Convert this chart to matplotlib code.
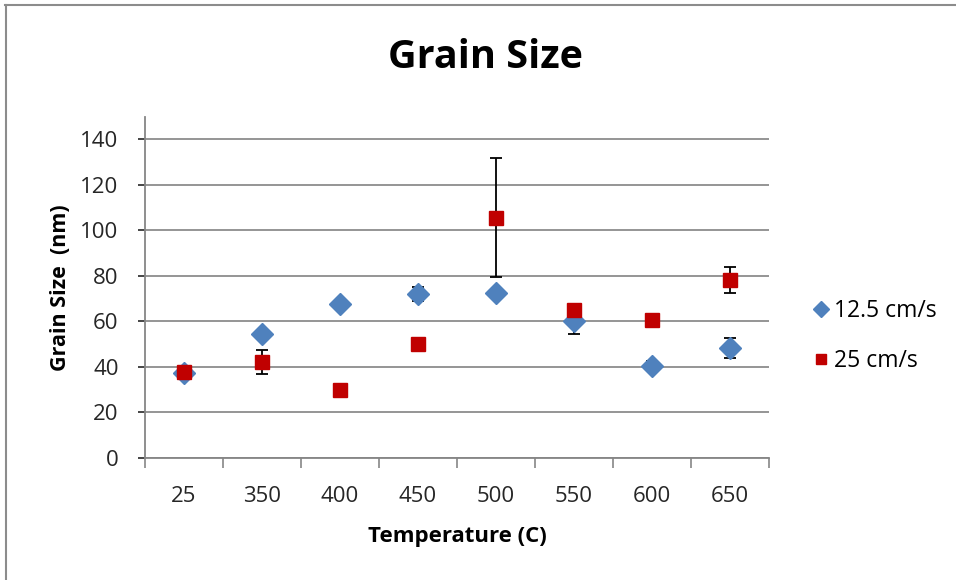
import numpy as np
import matplotlib.pyplot as plt
from matplotlib.lines import Line2D

plt.rcParams['font.family'] = ['Open Sans', 'DejaVu Sans']

temps = ['25', '350', '400', '450', '500', '550', '600', '650']
slow = [37.5, 54.5, 67.7, 72.1, 72.3, 60.3, 40.4, 48.4]
slow_err = [2.5, 0, 0, 3, 0, 6, 2, 4.3]
fast = [37.6, 42.0, 29.8, 50.0, 105.6, 64.9, 60.5, 78.2]
fast_err = [2.5, 5.3, 0, 0, 26.3, 0, 0, 5.7]

x = np.arange(len(temps))

fig = plt.figure(figsize=(9.56, 5.8), dpi=100)
ax = fig.add_axes([145/956, 1 - 458/580, 624/956, (458 - 116.5)/580])

ax.errorbar(x, slow, yerr=slow_err, fmt='none', ecolor='black', elinewidth=1.3,
            capsize=4.5, capthick=1.3, zorder=2)
ax.plot(x, slow, 'D', color='#4F81BD', markersize=11, linestyle='none',
        label='12.5 cm/s', zorder=3)
ax.errorbar(x, fast, yerr=fast_err, fmt='none', ecolor='black', elinewidth=1.3,
            capsize=4.5, capthick=1.3, zorder=4)
ax.plot(x, fast, 's', color='#C00000', markersize=9.5, linestyle='none',
        label='25 cm/s', zorder=5)

ax.set_xlim(-0.5, len(temps) - 0.5)
ax.set_ylim(0, 150)
ax.set_yticks(np.arange(0, 141, 20))
ax.set_xticks(x)
ax.set_xticklabels(temps)
ax.set_xticks(np.arange(-0.5, len(temps), 1), minor=True)
ax.tick_params(axis='x', which='major', length=0, labelsize=16, pad=20)
ax.tick_params(axis='x', which='minor', length=7, width=1.2, color='#868686',
               direction='out')
ax.tick_params(axis='y', length=5, width=1.2, color='#868686', labelsize=16, pad=14)
ax.tick_params(colors='#262626', which='major')

ax.grid(axis='y', color='#8c8c8c', linewidth=1.3)
ax.set_axisbelow(True)
for s in ['top', 'right']:
    ax.spines[s].set_visible(False)
for s in ['left', 'bottom']:
    ax.spines[s].set_color('#868686')
    ax.spines[s].set_linewidth(1.3)

ax.set_xlabel('Temperature (C)', fontsize=16, fontweight='bold', labelpad=14)
ax.set_ylabel('Grain Size  (nm)', fontsize=15.5, fontweight='bold', labelpad=7)
fig.suptitle('Grain Size', fontsize=28.5, fontweight='bold', x=486/956, y=1 - 57/580, va='center')

fig.legend(loc='center left', bbox_to_anchor=(789/956, 1 - 336/580), frameon=False,
           fontsize=16.5, handletextpad=0.05, labelspacing=1.1, handlelength=1.0,
           markerscale=0.75)

fig.add_artist(Line2D([5/956, 1], [1 - 5/580, 1 - 5/580], color='#8c8c8c', linewidth=1.5))
fig.add_artist(Line2D([6/956, 6/956], [0, 1 - 5/580], color='#8c8c8c', linewidth=1.5))

fig.savefig('out.png', dpi=100)
